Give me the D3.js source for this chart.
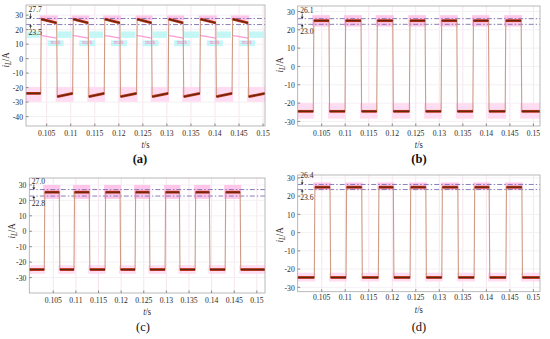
<!DOCTYPE html>
<html><head><meta charset="utf-8">
<script src="https://cdn.jsdelivr.net/npm/d3@7"></script>
<style>body{margin:0;background:#fff}svg{display:block}svg text{font-family:"Liberation Serif","Times New Roman",serif}</style>
</head><body><svg id="c" width="550" height="339"></svg>
<script>
// ---- data ----
const xTicks = [0.105,0.11,0.115,0.12,0.125,0.13,0.135,0.14,0.145,0.15];
const xTickLabels = ["0.105","0.11","0.115","0.12","0.125","0.13","0.135","0.14","0.145","0.15"];

const aRise = [0.10375,0.11040,0.11697,0.12369,0.13026,0.13685,0.14355];
const aFall = [0.10708,0.11364,0.12023,0.12681,0.13338,0.14017,0.14688];
const aHigh = [27.3, 24.6];   // start, end of high plateau
const aLow  = [-26.3, -24.0]; // start, end of low plateau
const aRef  = [27.7, 23.5];
const aYTicks = [-40,-30,-20,-10,0,10,20,30];
const aGhostHigh = [16.0, 14.2];           // faint overlaid trace (pink) in panel (a)
const aGhostBand = [18.8, 14.3, 12.6, 8.6]; // cyan overlay bands in panel (a)

const bRise = [0.10321,0.10996,0.11670,0.12364,0.13038,0.13713,0.14400];
const bFall = [0.10655,0.11336,0.12011,0.12698,0.13372,0.14045,0.14740];
const bHigh = [25.0, 25.0];
const bLow  = [-24.5, -24.5];
const bRef  = [26.1, 23.0];
const bYTicks = [-30,-20,-10,0,10,20,30];

const cRise = [0.10301,0.10958,0.11644,0.12308,0.12971,0.13635,0.14299];
const cFall = [0.10633,0.11296,0.11976,0.12624,0.13288,0.13951,0.14631];
const cHigh = [25.3, 25.3];
const cLow  = [-24.8, -24.8];
const cRef  = [27.0, 22.8];
const cYTicks = [-30,-20,-10,0,10,20,30];

const dRise = [0.10343,0.11017,0.11704,0.12379,0.13053,0.13740,0.14415];
const dFall = [0.10677,0.11351,0.12023,0.12713,0.13394,0.14060,0.14755];
const dHigh = [24.9, 24.9];
const dLow  = [-24.6, -24.6];
const dRef  = [26.4, 23.6];
const dYTicks = [-30,-20,-10,0,10,20,30];

// ---- layout ----
const panels = [
  {id:"(a)", rise:aRise, fall:aFall, high:aHigh, low:aLow, ref:aRef, yt:aYTicks,
   xd:[0.1007,0.1504], xr:[26,265], yd:[-46.5,37], yr:[126,5], labY:163, labX:140, bold:true,
   tlY:136, tsY:148, ylabX:9, ylabY:60, hiBox:[29.8,26.4], loBox:[-19.5,-29.8], ghost:true},
  {id:"(b)", rise:bRise, fall:bFall, high:bHigh, low:bLow, ref:bRef, yt:bYTicks,
   xd:[0.0999,0.1514], xr:[297.7,540], yd:[-32.5,33], yr:[126,6], labY:163, labX:419, bold:true,
   tlY:136, tsY:148, ylabX:283, ylabY:65, hiBox:[28,21.8], loBox:[-20,-28.5]},
  {id:"(c)", rise:cRise, fall:cFall, high:cHigh, low:cLow, ref:cRef, yt:cYTicks,
   xd:[0.0997,0.1518], xr:[29.3,265], yd:[-40,34.5], yr:[293,178], labY:331, labX:143, bold:false,
   tlY:303, tsY:315, ylabX:15, ylabY:231, hiBox:[30,21], loBox:[-22,-27.5]},
  {id:"(d)", rise:dRise, fall:dFall, high:dHigh, low:dLow, ref:dRef, yt:dYTicks,
   xd:[0.0999,0.1514], xr:[297.7,540], yd:[-32.4,31.6], yr:[291.7,175], labY:331, labX:419, bold:false,
   tlY:300, tsY:313, ylabX:283, ylabY:235, hiBox:[27.5,23.3], loBox:[-22,-26.8]}
];

const svg = d3.select("#c");
const edge = 0.00012;
const SQ = 0.85; // horizontal squeeze of the reference's lettering

function txt(g, x, y, s, size, anchor, extra) {
  const t = g.append("text").attr("transform",`translate(${x},${y}) scale(${SQ},1)`)
    .attr("font-size",size).attr("text-anchor",anchor||"start").attr("fill","#2a2a2a");
  if (s !== null) t.text(s);
  if (extra) extra(t);
  return t;
}

panels.forEach(p => {
  const x = d3.scaleLinear().domain(p.xd).range(p.xr);
  const y = d3.scaleLinear().domain(p.yd).range(p.yr);
  const g = svg.append("g");
  const [x0,x1] = p.xd;

  // faint grid
  g.selectAll(".gx").data(xTicks).join("line")
    .attr("x1",d=>x(d)).attr("x2",d=>x(d)).attr("y1",p.yr[0]).attr("y2",p.yr[1])
    .attr("stroke","#f7e4ef").attr("stroke-width",1);
  g.selectAll(".gy").data(p.yt).join("line")
    .attr("x1",p.xr[0]).attr("x2",p.xr[1]).attr("y1",d=>y(d)).attr("y2",d=>y(d))
    .attr("stroke","#f4f0f4").attr("stroke-width",1);

  const hiSegs = p.rise.map((r,i)=>[r,p.fall[i]]);
  const loSegs = [[x0,p.rise[0]]].concat(p.fall.map((f,i)=>[f, i+1<p.rise.length?p.rise[i+1]:x1]));
  const line = d3.line().x(d=>x(d[0])).y(d=>y(d[1]));

  // ghost overlay in (a)
  if (p.ghost) {
    g.selectAll(".cy1").data(loSegs).join("rect")
      .attr("x",d=>Math.max(p.xr[0],x(d[0])+1)).attr("width",d=>Math.max(0,Math.min(p.xr[1],x(d[1])-1)-Math.max(p.xr[0],x(d[0])+1)))
      .attr("y",y(aGhostBand[0])).attr("height",y(aGhostBand[1])-y(aGhostBand[0]))
      .attr("fill","#c4f6f6");
    g.selectAll(".cy2").data(p.fall).join("rect")
      .attr("x",d=>x(d)-9).attr("width",16)
      .attr("y",y(aGhostBand[2])).attr("height",y(aGhostBand[3])-y(aGhostBand[2]))
      .attr("fill","#c4f6f6");
    g.selectAll(".gh").data(hiSegs).join("path")
      .attr("d",d=>line([[d[0],aGhostHigh[0]],[d[1],aGhostHigh[1]]]))
      .attr("fill","none").attr("stroke","#ff9ad6").attr("stroke-width",1.2);
    g.selectAll(".gm").data(p.fall).join("text")
      .attr("transform",d=>`translate(${x(d)-6},${y(aGhostBand[2])+4}) scale(0.8,1)`)
      .attr("font-size",6).attr("fill","#ff80cc").text("mark");
  }

  // pink highlight boxes
  g.selectAll(".hb").data(hiSegs).join("rect")
    .attr("x",d=>x(d[0])-1).attr("width",d=>x(d[1])-x(d[0])+2)
    .attr("y",y(p.hiBox[0])).attr("height",y(p.hiBox[1])-y(p.hiBox[0]))
    .attr("fill","#ffc6ea");
  g.selectAll(".lb").data(loSegs).join("rect")
    .attr("x",d=>Math.max(p.xr[0],x(d[0])-1)).attr("width",d=>Math.min(p.xr[1],x(d[1])+1)-Math.max(p.xr[0],x(d[0])-1))
    .attr("y",y(p.loBox[0])).attr("height",y(p.loBox[1])-y(p.loBox[0]))
    .attr("fill","#ffdcf1");

  // reference dash-dot lines
  g.selectAll(".ref").data(p.ref).join("line")
    .attr("x1",p.xr[0]).attr("x2",p.xr[1]).attr("y1",d=>y(d)).attr("y2",d=>y(d))
    .attr("stroke","#7b6fb0").attr("stroke-width",0.9).attr("stroke-dasharray","5,2,1.5,2");

  // signal breakpoints
  const pts = [[x0,p.low[1]]];
  p.rise.forEach((r,i)=>{
    pts.push([r,p.low[1]]);
    pts.push([r+edge,p.high[0]]);
    pts.push([p.fall[i],p.high[1]]);
    pts.push([p.fall[i]+edge,p.low[0]]);
  });
  pts.push([x1,p.low[1]]);
  g.append("path").attr("d",line(pts)).attr("fill","none")
    .attr("stroke","#cf9a86").attr("stroke-width",1.1);

  // plateau bands
  const hiPaths = hiSegs.map(s=>[[s[0]+edge,p.high[0]],[s[1],p.high[1]]]);
  const loPaths = [[[x0,p.low[1]],[p.rise[0],p.low[1]]]].concat(
    p.fall.map((f,i)=>[[f+edge,p.low[0]],[i+1<p.rise.length?p.rise[i+1]:x1,p.low[1]]]));
  const plats = hiPaths.concat(loPaths);
  g.selectAll(".pb").data(plats).join("path").attr("d",line).attr("fill","none")
    .attr("stroke","#c0301c").attr("stroke-width",2.8);
  g.selectAll(".pc").data(plats).join("path").attr("d",line).attr("fill","none")
    .attr("stroke","#5c2a08").attr("stroke-width",1.2);

  // frame
  g.append("rect").attr("x",p.xr[0]).attr("y",p.yr[1]).attr("width",p.xr[1]-p.xr[0]).attr("height",p.yr[0]-p.yr[1])
    .attr("fill","none").attr("stroke","#a8a8a8").attr("stroke-width",0.8);
  g.selectAll(".tx").data(xTicks).join("line")
    .attr("x1",d=>x(d)).attr("x2",d=>x(d)).attr("y1",p.yr[0]).attr("y2",p.yr[0]-2.5)
    .attr("stroke","#888");
  g.selectAll(".ty").data(p.yt).join("line")
    .attr("x1",p.xr[0]).attr("x2",p.xr[0]+2.5).attr("y1",d=>y(d)).attr("y2",d=>y(d))
    .attr("stroke","#888");

  // tick labels
  xTicks.forEach((d,i)=>txt(g, x(d), p.tlY, xTickLabels[i], 9, "middle"));
  p.yt.forEach(d=>txt(g, p.xr[0]-3, y(d)+3.2, String(d), 9, "end"));

  // axis titles
  const xc = (p.xr[0]+p.xr[1])/2;
  txt(g, xc, p.tsY, null, 10, "middle", t=>{
    t.append("tspan").attr("font-style","italic").text("t");
    t.append("tspan").text("/s");
  });
  g.append("text").attr("transform",`translate(${p.ylabX},${p.ylabY}) rotate(-90) scale(${SQ},1)`)
    .attr("text-anchor","middle").attr("font-size",10.5).attr("fill","#2a2a2a")
    .call(t=>{
      t.append("tspan").attr("font-style","italic").text("i");
      t.append("tspan").attr("font-style","italic").attr("font-size",8).attr("dy",2).text("L");
      t.append("tspan").attr("dy",-2).text("/A");
    });

  // annotation
  const ax = p.xr[0]+2.5;
  txt(g, ax, y(p.ref[0])-6, p.ref[0].toFixed(1), 9, "start");
  txt(g, ax, y(p.ref[1])+10, p.ref[1].toFixed(1), 9, "start");
  g.append("line").attr("x1",ax+2).attr("x2",ax+2).attr("y1",y(p.ref[0])-5).attr("y2",y(p.ref[0])-1).attr("stroke","#222").attr("stroke-width",0.7);
  g.append("path").attr("d",`M${ax+0.5},${y(p.ref[0])-2}L${ax+3.5},${y(p.ref[0])-2}L${ax+2},${y(p.ref[0])}Z`).attr("fill","#222");
  g.append("line").attr("x1",ax+2).attr("x2",ax+2).attr("y1",y(p.ref[1])+1).attr("y2",y(p.ref[1])+4).attr("stroke","#222").attr("stroke-width",0.7);
  g.append("path").attr("d",`M${ax+0.5},${y(p.ref[1])+2}L${ax+3.5},${y(p.ref[1])+2}L${ax+2},${y(p.ref[1])}Z`).attr("fill","#222");

  // panel label
  g.append("text").attr("x",p.labX).attr("y",p.labY).attr("text-anchor","middle")
    .attr("font-size",12.5).attr("font-weight",p.bold?"bold":"normal").attr("fill","#111").text(p.id);
});
</script></body></html>
